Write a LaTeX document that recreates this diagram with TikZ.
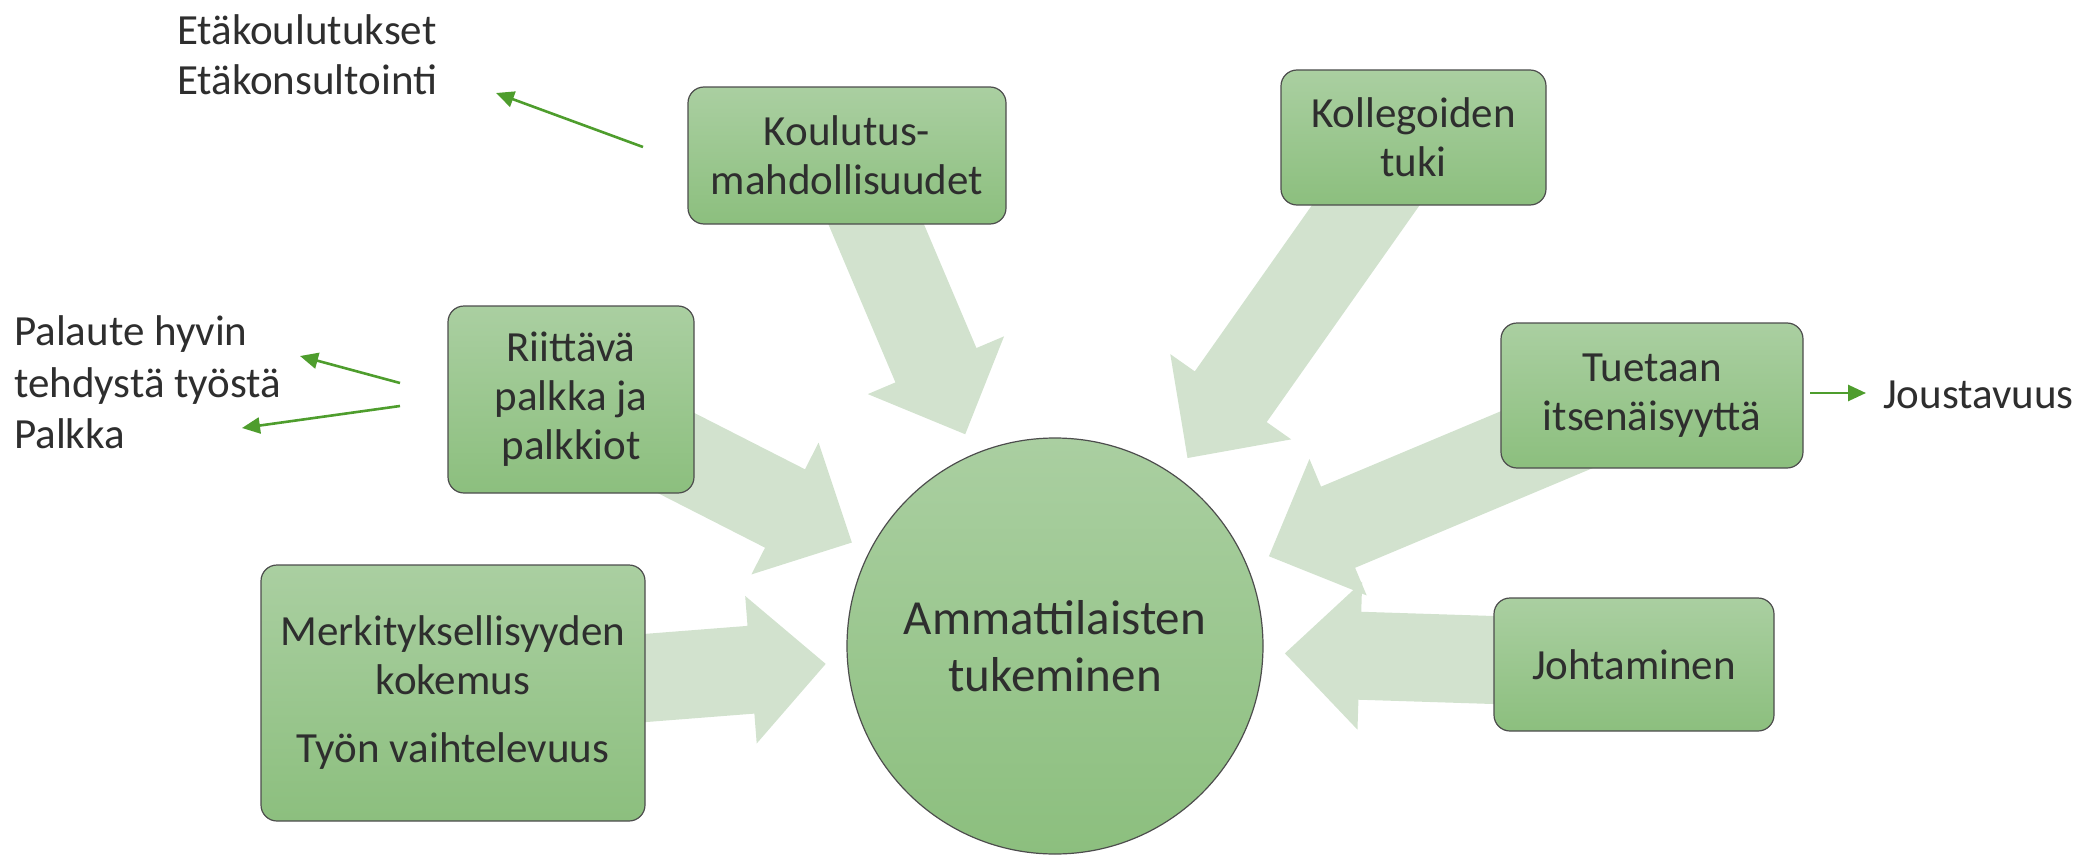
\documentclass[tikz,border=0pt]{standalone}
\usepackage{fontspec}
\setmainfont{Carlito}
\usetikzlibrary{calc,arrows.meta}
\definecolor{boxtop}{HTML}{AACFA1}
\definecolor{boxbot}{HTML}{8CBF7E}
\definecolor{bigarr}{HTML}{D2E2CE}
\definecolor{smallarr}{HTML}{4E9D2D}
\definecolor{txt}{HTML}{2E2E2E}
\definecolor{edgec}{HTML}{4D4D4D}
\pgfdeclarelayer{bg}
\pgfsetlayers{bg,main}
\newcommand\bigArrowDraw[2]{%
  \coordinate (bA) at ($(#2)!75pt!(#1)$);
  \fill[bigarr] ($(#1)!44pt!90:(#2)$) -- ($(bA)!44pt!90:(#2)$) -- ($(bA)!74pt!90:(#2)$) -- (#2)
    -- ($(bA)!74pt!-90:(#2)$) -- ($(bA)!44pt!-90:(#2)$) -- ($(#1)!44pt!-90:(#2)$) -- cycle;}
\tikzset{
  box/.style={draw=edgec, line width=1.2pt, rounded corners=16pt, top color=boxtop, bottom color=boxbot,
    inner sep=0pt, align=center, text=txt, font=\fontsize{43}{49}\selectfont},
  circ/.style={circle, draw=edgec, line width=1.2pt, top color=boxtop, bottom color=boxbot,
    inner sep=0pt, align=center, text=txt, font=\fontsize{49}{57}\selectfont},
  plain/.style={inner sep=0pt, text=txt, font=\fontsize{43}{49}\selectfont, anchor=base west},
  smallarrow/.style={draw=smallarr, line width=2.6pt, -{Triangle[length=18pt,width=16pt]}}
}
\begin{document}
\begin{tikzpicture}[x=1pt,y=-1pt]
\useasboundingbox (0,0) rectangle (2091,859);
% boxes
\node[box, minimum width=318pt, minimum height=137pt] (kou) at (847,155.5) {\fontsize{43}{37}\selectfont Koulutus-\\mahdollisuudet};
\node[box, minimum width=265pt, minimum height=135pt] (kol) at (1413.5,137.5) {Kollegoiden\\tuki};
\node[box, minimum width=246pt, minimum height=187pt] (rii) at (571,399.5) {Riittävä\\palkka ja\\palkkiot};
\node[box, minimum width=302pt, minimum height=145pt] (tue) at (1652,395.5) {Tuetaan\\itsenäisyyttä};
\node[box, minimum width=280pt, minimum height=133pt] (joh) at (1634,664.5) {Johtaminen};
\node[box, minimum width=384pt, minimum height=256pt] (mer) at (453,693) {Merkityksellisyyden\\kokemus\\[19pt]Työn vaihtelevuus};
\node[circ, minimum size=416pt] (C) at (1055,646) {Ammattilaisten\\tukeminen};
% side texts
\node[plain] (etaA) at (177,45) {Etäkoulutukset};
\node[plain] (etaB) at (177,95) {Etäkonsultointi};
\node[plain] (palA) at (14,345) {Palaute hyvin};
\node[plain] (palB) at (14,397) {tehdystä työstä};
\node[plain] (palC) at (14,448) {Palkka};
\node[plain] (jou) at (1883,408) {Joustavuus};
% big arrows
\coordinate (t1) at ($(C)!230pt!(kou)$);
\coordinate (t2) at ($(C)!230pt!(kol)$);
\coordinate (t3) at ($(C)!228pt!(rii)$);
\coordinate (t4) at ($(C)!232pt!(tue)$);
\coordinate (t5) at ($(C)!230pt!(joh)$);
\coordinate (t6) at ($(C)!230pt!(mer)$);
\begin{pgfonlayer}{bg}
\bigArrowDraw{kou}{t1}
\bigArrowDraw{kol}{t2}
\bigArrowDraw{rii}{t3}
\bigArrowDraw{tue}{t4}
\bigArrowDraw{joh}{t5}
\bigArrowDraw{mer}{t6}
\end{pgfonlayer}
% small arrows
\coordinate (s1) at (643,147); \coordinate (e1) at (496,93);
\coordinate (s2) at (400,383); \coordinate (e2) at (300,356);
\coordinate (s3) at (400,406); \coordinate (e3) at (242,428);
\coordinate (s4) at (1810,393); \coordinate (e4) at (1866,393);
\draw[smallarrow] (s1) -- (e1);
\draw[smallarrow] (s2) -- (e2);
\draw[smallarrow] (s3) -- (e3);
\draw[smallarrow] (s4) -- (e4);
\end{tikzpicture}
\end{document}
